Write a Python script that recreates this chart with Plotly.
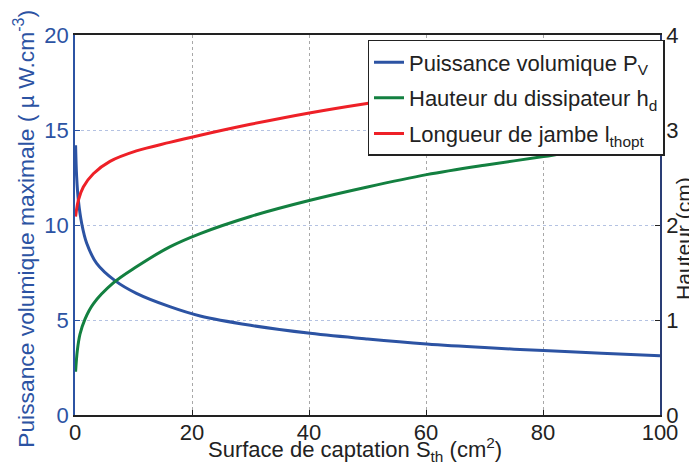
import plotly.graph_objects as go

# Surface de captation (cm^2) and series values
x_pv = [0.1, 0.28, 0.57, 1.14, 2.0, 3.7, 6.84, 10.5, 16.2, 21.4, 30, 40.2, 50, 60.1, 70, 80.1, 90, 100]
pv = [14.2, 12.54, 11.32, 10.09, 9.04, 7.98, 7.07, 6.40, 5.70, 5.21, 4.72, 4.30, 4.00, 3.74, 3.55, 3.39, 3.25, 3.12]

x_hd = [0.1, 0.4, 0.85, 1.71, 3.13, 6.55, 10.5, 16.2, 21.4, 30, 40.2, 50, 60.1, 70, 80.1, 90, 100]
hd = [0.456, 0.68, 0.85, 1.01, 1.17, 1.39, 1.56, 1.77, 1.91, 2.09, 2.26, 2.40, 2.53, 2.63, 2.72, 2.82, 2.89]

x_l = [0.1, 0.57, 1.42, 3.13, 5.98, 10.5, 16.2, 21.4, 30, 40.05, 49.9, 60, 70, 80, 90, 100]
l_th = [2.09, 2.26, 2.40, 2.54, 2.67, 2.78, 2.87, 2.945, 3.06, 3.18, 3.28, 3.37, 3.45, 3.53, 3.60, 3.67]

x_ticks = [0, 20, 40, 60, 80, 100]
y1_ticks = [0, 5, 10, 15, 20]
y2_ticks = [0, 1, 2, 3, 4]

BLUE = "#2C53A3"
GREEN = "#138040"
RED = "#EE2027"
DARK = "#222222"
FONT = "Liberation Sans, Arial, sans-serif"
FS = 22

fig = go.Figure()
fig.add_trace(go.Scatter(x=x_pv, y=pv, mode="lines", name="Puissance volumique P<sub>V</sub>",
                         legendgroup="a",
                         line=dict(color=BLUE, width=3, shape="spline", smoothing=1.0), yaxis="y"))
fig.add_trace(go.Scatter(x=x_hd, y=hd, mode="lines", name="Hauteur du dissipateur h<sub>d</sub>",
                         legendgroup="b",
                         line=dict(color=GREEN, width=3, shape="spline", smoothing=1.0), yaxis="y2"))
fig.add_trace(go.Scatter(x=x_l, y=l_th, mode="lines", name="Longueur de jambe l<sub>thopt</sub>",
                         legendgroup="c",
                         line=dict(color=RED, width=3, shape="spline", smoothing=1.0), yaxis="y2"))

fig.update_layout(
    width=689, height=457,
    margin=dict(l=67, r=37, t=27, b=50, autoexpand=False),
    paper_bgcolor="white", plot_bgcolor="white",
    font=dict(family=FONT, size=FS, color=DARK),
    showlegend=True,
    legend=dict(x=0.50, y=0.987, xanchor="left", yanchor="top",
                bgcolor="white", bordercolor=DARK, borderwidth=1.5,
                font=dict(family=FONT, size=FS, color=DARK),
                tracegroupgap=4, itemwidth=30),
    xaxis=dict(range=[0, 100], tickvals=x_ticks, showgrid=True, gridcolor="#A8A8A8",
               griddash="dot", gridwidth=1, zeroline=False, showline=True, linecolor=DARK,
               linewidth=1.5, mirror=True, ticks="inside", ticklen=5, tickcolor=DARK,
               tickfont=dict(size=FS, color=DARK), ticklabelstandoff=-3, automargin=False),
    yaxis=dict(range=[0, 20], tickvals=y1_ticks, showgrid=True, gridcolor="#B4C2E2",
               griddash="dot", gridwidth=1, zeroline=False, showline=True, linecolor=BLUE,
               linewidth=1.5, ticks="inside", ticklen=5, tickcolor=BLUE,
               tickfont=dict(size=FS, color=BLUE), automargin=False),
    yaxis2=dict(range=[0, 4], tickvals=y2_ticks, overlaying="y", side="right", showgrid=False,
                zeroline=False, showline=True, linecolor="#2A3D75", linewidth=1.5,
                ticks="inside", ticklen=5, tickcolor=DARK,
                tickfont=dict(size=FS, color=DARK), automargin=False),
    annotations=[
        dict(text="Surface de captation S<sub>th</sub> (cm<sup>2</sup>)", xref="paper", yref="paper",
             x=0.479, y=-0.092, xanchor="center", yanchor="middle", showarrow=False,
             font=dict(size=FS, color=DARK)),
        dict(text="Puissance volumique maximale ( µ W.cm<sup>-3</sup>)", xref="paper", yref="paper",
             x=-0.0855, y=0.49, xanchor="center", yanchor="middle", textangle=-90, showarrow=False,
             font=dict(size=22.8, color=BLUE)),
        dict(text="Hauteur (cm)", xref="paper", yref="paper",
             x=1.041, y=0.466, xanchor="center", yanchor="middle", textangle=-90, showarrow=False,
             font=dict(size=21, color=DARK)),
    ],
)

fig.write_html("out.html")
